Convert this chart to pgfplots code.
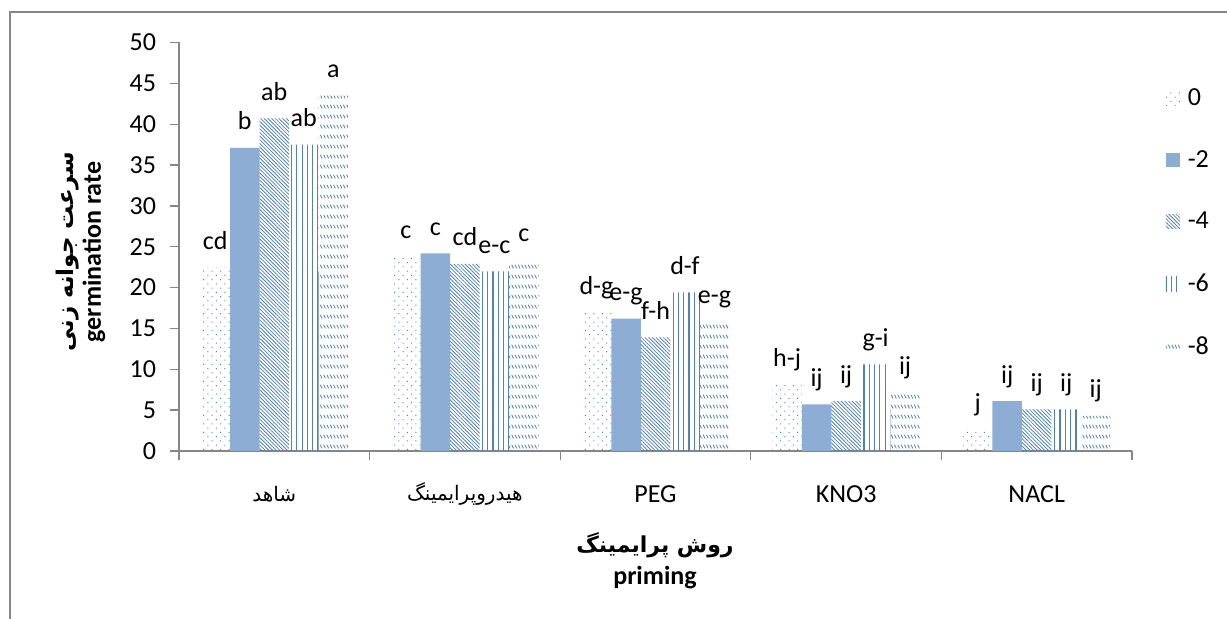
\documentclass[border=0pt]{standalone}
\usepackage{fontspec}
\setmainfont{Carlito}
\newfontfamily\arabicfont[Script=Arabic]{DejaVu Sans}
\usepackage{pgfplots}
\pgfplotsset{compat=1.18}
\usetikzlibrary{patterns,patterns.meta}
\TeXXeTstate=1
\definecolor{obl}{RGB}{79,129,189}
\definecolor{axgray}{RGB}{134,134,134}
\pgfdeclarepatternformonly{dashrows}{\pgfqpoint{-0.1pt}{-0.1pt}}{\pgfqpoint{1.75pt}{5.1pt}}{\pgfqpoint{1.65pt}{5pt}}{%
 \pgfsetlinewidth{0.4pt}%
 \pgfpathmoveto{\pgfqpoint{0.1pt}{2.1pt}}%
 \pgfpathlineto{\pgfqpoint{1.0pt}{0.3pt}}%
 \pgfusepath{stroke}}
\newcommand{\lf}{\fontsize{13pt}{15.5pt}\selectfont}
\begin{document}
\begin{tikzpicture}
\begin{scope}[x=0.5pt,y=-0.5pt]
\path[use as bounding box] (0,0) rectangle (1227,619);
\draw[axgray, line width=1pt] (9.5,619) -- (9.5,12.5) -- (1227,12.5);
\node[rotate=90, font=\bfseries\lf] at (94,252) {germination rate};
\node[rotate=90, font=\arabicfont\bfseries\fontsize{11.5pt}{14pt}\selectfont] at (68,252) {\beginR سرعت جوانه زنی\endR};
\node[font=\arabicfont\bfseries\fontsize{11pt}{14pt}\selectfont] at (655,545) {\beginR روش پرایمینگ\endR};
\node[font=\bfseries\lf, anchor=base] at (655,585) {priming};
\end{scope}
\begin{axis}[
  at={(89.5pt,-225.5pt)}, anchor=south west,
  scale only axis, width=476.5pt, height=204.25pt,
  ymin=0, ymax=50, ytick={0,5,...,50},
  xmin=-0.5, xmax=4.5,
  axis x line*=bottom, axis y line*=left,
  axis line style={axgray, line width=0.65pt},
  tick align=outside, major tick length=4.5pt,
  tick style={axgray, line width=0.65pt},
  xtick={-0.5,0.5,...,4.5}, xticklabels={},
  extra x ticks={0,1,2,3,4},
  extra x tick labels={{\arabicfont\fontsize{10pt}{12pt}\selectfont\beginR شاهد\endR},{\arabicfont\fontsize{10pt}{12pt}\selectfont\beginR هیدروپرایمینگ\endR},PEG,KNO3,NACL},
  extra x tick style={major tick length=0pt, xticklabel style={font=\lf, anchor=center, yshift=-21.5pt}},
  yticklabel style={font=\lf, anchor=east, xshift=-3.5pt},
  /pgf/number format/assume math mode=true,
  ybar=0pt, bar width=14.75pt,
  point meta=explicit symbolic,
  nodes near coords,
  every node near coord/.append style={font=\lf, anchor=base, yshift=9pt, text=black},
  legend cell align=left,
  legend image code/.code={\path[#1] (0pt,-3.5pt) rectangle (7pt,3.75pt);},
  legend style={draw=none, fill=none, at={(1.035,0.896)}, anchor=north west, font=\lf, row sep=18pt, inner sep=0pt,
     nodes={inner sep=1.5pt}, /tikz/every odd column/.append style={column sep=2.5pt}},
]
\addplot[draw=none, pattern={Dots[radius=0.35pt, distance=3pt, angle=45]}, pattern color=obl]
 coordinates {(0,22.5)[cd] (1,23.8)[c] (2,17.0)[d-g] (3,8.2)[h-j] (4,2.6)[j]};
\addplot[draw=none, fill=obl!65]
 coordinates {(0,37.1)[b] (1,24.2)[c] (2,16.2)[e-g] (3,5.7)[ij] (4,6.1)[ij]};
\addplot[draw=none, pattern={Lines[angle=-45, distance=1.3pt, line width=0.4pt]}, pattern color=obl]
 coordinates {(0,40.7)[ab] (1,22.9)[cd] (2,13.9)[f-h] (3,6.1)[ij] (4,5.1)[ij]};
\addplot[draw=none, pattern={Lines[angle=90, distance=2.65pt, line width=0.6pt]}, pattern color=obl]
 coordinates {(0,37.5)[ab] (1,22.0)[e-c] (2,19.4)[d-f] (3,10.6)[g-i] (4,5.1)[ij]};
\addplot[draw=none, pattern=dashrows, pattern color=obl]
 coordinates {(0,43.5)[a] (1,23.4)[c] (2,15.9)[e-g] (3,7.2)[ij] (4,4.3)[ij]};
\legend{0,-2,-4,-6,-8}
\end{axis}
\end{tikzpicture}
\end{document}
